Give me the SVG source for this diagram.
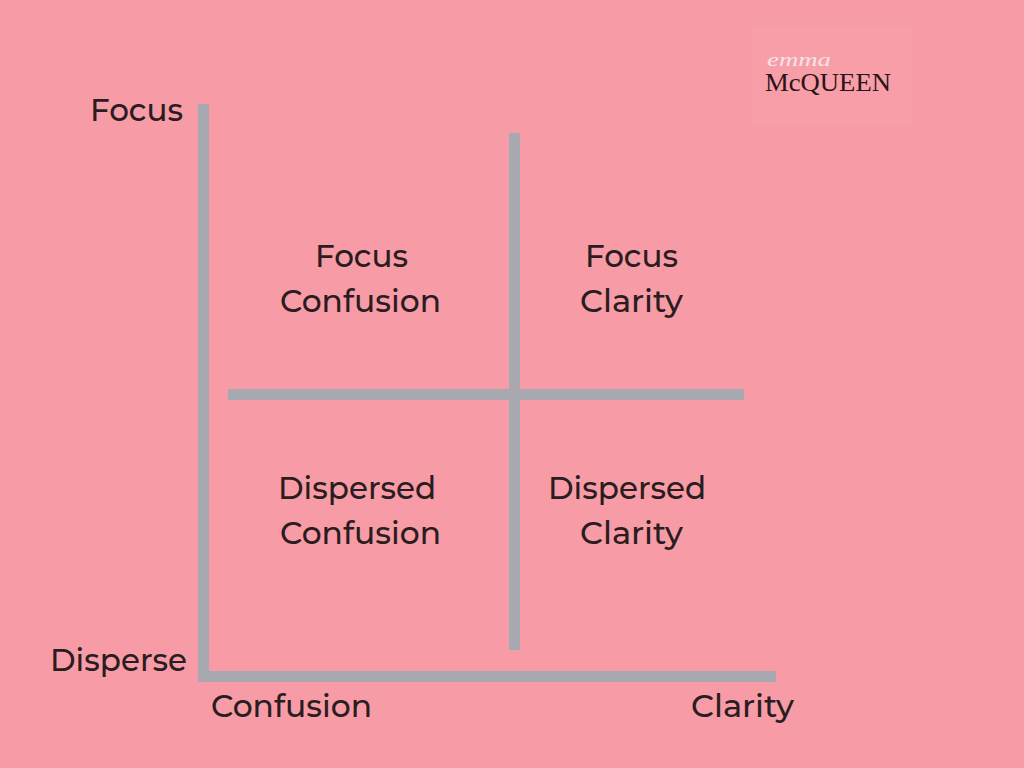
<svg xmlns="http://www.w3.org/2000/svg" width="1024" height="768" viewBox="0 0 1024 768">
<style>
.l{font-family:Montserrat,"Noto Sans","Open Sans",sans-serif;font-size:31px;font-weight:500;fill:#2a1c20}
.b{fill:#a7a8b0}
</style>
<rect width="1024" height="768" fill="#f79ca6"/>
<g id="connectors">
<rect class="b" x="198" y="104" width="11" height="578"/>
<rect class="b" x="198" y="671" width="578" height="11"/>
<rect class="b" x="509" y="133" width="11" height="517"/>
<rect class="b" x="228" y="389" width="516" height="11"/>
</g>
<g id="logo">
<rect x="752" y="26" width="160" height="100" fill="#f79ea8"/>
<text x="767" y="66" font-family="Liberation Serif,serif" font-style="italic" font-size="18" textLength="64" lengthAdjust="spacingAndGlyphs" fill="#f6e4e4">emma</text>
<text x="765" y="91" font-family="Liberation Serif,serif" font-size="26" textLength="126" lengthAdjust="spacingAndGlyphs" fill="#2a1418">McQUEEN</text>
</g>
<g id="axis-labels">
<text class="l" x="90" y="121">Focus</text>
<text class="l" x="50" y="671">Disperse</text>
<text class="l" x="211" y="717" textLength="161" lengthAdjust="spacingAndGlyphs">Confusion</text>
<text class="l" x="691" y="717" textLength="103" lengthAdjust="spacingAndGlyphs">Clarity</text>
</g>
<g id="q1"><text class="l" x="315" y="267">Focus</text><text class="l" x="280" y="312" textLength="161" lengthAdjust="spacingAndGlyphs">Confusion</text></g>
<g id="q2"><text class="l" x="585" y="267">Focus</text><text class="l" x="580" y="312" textLength="103" lengthAdjust="spacingAndGlyphs">Clarity</text></g>
<g id="q3"><text class="l" x="278" y="499">Dispersed</text><text class="l" x="280" y="544" textLength="161" lengthAdjust="spacingAndGlyphs">Confusion</text></g>
<g id="q4"><text class="l" x="548" y="499">Dispersed</text><text class="l" x="580" y="544" textLength="103" lengthAdjust="spacingAndGlyphs">Clarity</text></g>
</svg>
